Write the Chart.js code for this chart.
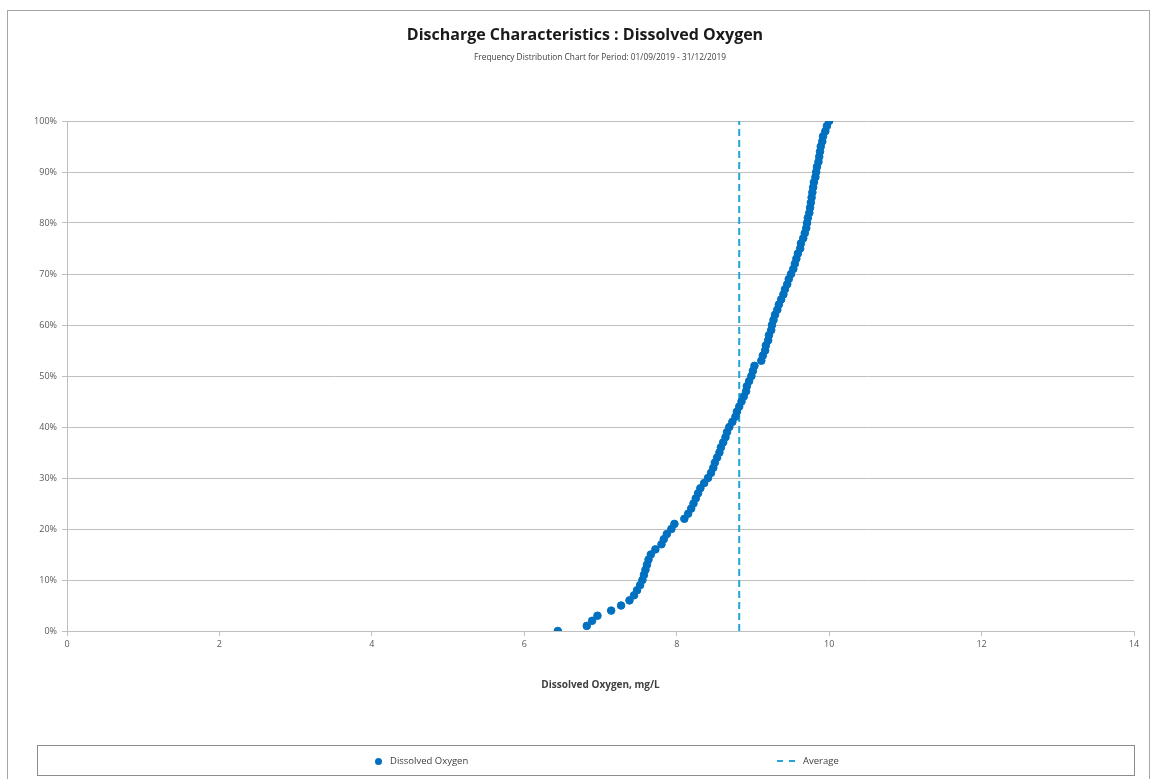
<!DOCTYPE html>
<html>
<head>
<meta charset="utf-8">
<script src="https://cdn.jsdelivr.net/npm/chart.js@4"></script>
<style>
  html, body { margin: 0; padding: 0; background: #fff; }
  #wrap { position: relative; width: 1156px; height: 779px; overflow: hidden; }
  #frame { position: absolute; left: 7px; top: 10px; width: 1143px; height: 800px; border: 1px solid #a6a6a6; box-sizing: border-box; }
  canvas { position: absolute; left: 0; top: 0; }
  #legend { position: absolute; left: 37px; top: 745px; width: 1098px; height: 31px; border: 1px solid #8c8c8c; box-sizing: border-box;
            font-family: "Open Sans", sans-serif; font-size: 9.5px; color: #404040; }
  .item { position: absolute; top: 8px; white-space: nowrap; }
  .dot { display: inline-block; width: 7px; height: 7px; border-radius: 50%; background: #0070c0; vertical-align: middle; margin-right: 8px; }
  .dash { display: inline-block; width: 18px; height: 0; border-top: 2px dashed #21a6d6; vertical-align: middle; margin-right: 8px; }
</style>
</head>
<body>
<div id="wrap">
  <div id="frame"></div>
  <canvas id="chart" width="1156" height="779"></canvas>
  <div id="legend">
    <span class="item" style="left:337px"><span class="dot"></span>Dissolved Oxygen</span>
    <span class="item" style="left:739px"><span class="dash"></span>Average</span>
  </div>
</div>
<script>
// cumulative frequency (%) for each sorted reading
const cumPercent = [0, 1, 2, 3, 4, 5, 6, 7, 8, 9, 10, 11, 12, 13, 14, 15, 16, 17, 18, 19, 20,
  21, 22, 23, 24, 25, 26, 27, 28, 29, 30, 31, 32, 33, 34, 35, 36, 37, 38, 39, 40,
  41, 42, 43, 44, 45, 46, 47, 48, 49, 50, 51, 52, 53, 54, 55, 56, 57, 58, 59, 60,
  61, 62, 63, 64, 65, 66, 67, 68, 69, 70, 71, 72, 73, 74, 75, 76, 77, 78, 79, 80,
  81, 82, 83, 84, 85, 86, 87, 88, 89, 90, 91, 92, 93, 94, 95, 96, 97, 98, 99, 100];

// dissolved oxygen readings, mg/L (sorted)
const oxygen = [6.44, 6.82, 6.89, 6.96, 7.14, 7.27, 7.38, 7.44, 7.48, 7.52, 7.55,
  7.57, 7.59, 7.61, 7.63, 7.66, 7.72, 7.80, 7.83, 7.87, 7.93,
  7.97, 8.10, 8.15, 8.19, 8.22, 8.25, 8.28, 8.31, 8.36, 8.41,
  8.45, 8.48, 8.50, 8.53, 8.56, 8.58, 8.61, 8.64, 8.66, 8.69,
  8.73, 8.77, 8.79, 8.82, 8.85, 8.88, 8.91, 8.92, 8.95, 8.98,
  9.00, 9.02, 9.11, 9.13, 9.16, 9.17, 9.20, 9.21, 9.24, 9.25,
  9.27, 9.29, 9.32, 9.34, 9.37, 9.40, 9.42, 9.45, 9.47, 9.50,
  9.53, 9.55, 9.57, 9.59, 9.62, 9.63, 9.66, 9.68, 9.70, 9.71,
  9.72, 9.74, 9.75, 9.76, 9.77, 9.78, 9.79, 9.80, 9.82, 9.83,
  9.84, 9.86, 9.87, 9.88, 9.89, 9.91, 9.92, 9.95, 9.97, 10.00];

const averageX = [8.82, 8.82];
const averageY = [0, 100];

const chartTitle = 'Discharge Characteristics : Dissolved Oxygen';
const chartSubtitle = 'Frequency Distribution Chart for Period: 01/09/2019 - 31/12/2019';

const font = '"Open Sans", sans-serif';

// titles sit slightly off the canvas centre in the original, so draw them here
const titles = {
  id: 'titles',
  afterDraw(chart) {
    const ctx = chart.ctx;
    ctx.save();
    ctx.textAlign = 'center';
    ctx.textBaseline = 'middle';
    ctx.fillStyle = '#1a1a1a';
    ctx.font = 'bold 16px ' + font;
    ctx.fillText(chartTitle, 585, 35);
    ctx.fillStyle = '#404040';
    ctx.font = '8.3px ' + font;
    ctx.fillText(chartSubtitle, 600, 58);
    ctx.restore();
  }
};

new Chart(document.getElementById('chart'), {
  type: 'scatter',
  data: {
    datasets: [
      {
        label: 'Dissolved Oxygen',
        data: oxygen.map((x, i) => ({ x: x, y: cumPercent[i] })),
        backgroundColor: '#0070c0',
        borderColor: '#0070c0',
        pointRadius: 3.8,
        pointHoverRadius: 3.8
      },
      {
        label: 'Average',
        data: averageX.map((x, i) => ({ x: x, y: averageY[i] })),
        showLine: true,
        borderColor: '#21a6d6',
        borderWidth: 2,
        borderDash: [7, 4],
        pointRadius: 0
      }
    ]
  },
  plugins: [titles],
  options: {
    responsive: false,
    animation: false,
    devicePixelRatio: 1,
    layout: { padding: { left: 7, right: 22, top: 121, bottom: 84 } },
    plugins: {
      legend: { display: false },
      tooltip: { enabled: false }
    },
    scales: {
      x: {
        type: 'linear',
        min: 0,
        max: 14,
        ticks: { stepSize: 2, color: '#595959', padding: 3, font: { family: font, size: 9 } },
        grid: { display: true, drawOnChartArea: false, tickLength: 5, color: '#bfbfbf' },
        border: { color: '#bfbfbf' },
        title: {
          display: true,
          text: 'Dissolved Oxygen, mg/L',
          color: '#404040',
          font: { family: font, size: 10, weight: 'bold' },
          padding: { top: 0, bottom: 4 }
        },
        afterFit: s => { s.height = 64; }
      },
      y: {
        min: 0,
        max: 100,
        ticks: { stepSize: 10, color: '#595959', padding: 5, font: { family: font, size: 9 }, callback: v => v + '%' },
        grid: { color: '#bfbfbf', tickLength: 5 },
        border: { color: '#bfbfbf' },
        afterFit: s => { s.width = 60; }
      }
    }
  }
});
</script>
</body>
</html>
